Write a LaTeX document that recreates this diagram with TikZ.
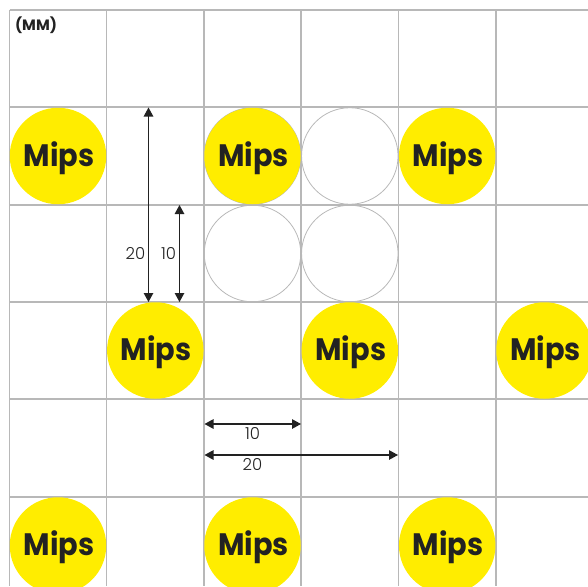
\documentclass[tikz,border=0pt]{standalone}
\usepackage{fontspec}
\setmainfont{Poppins}
\newfontfamily\mipsfont[FakeStretch=0.93]{Poppins Bold}
\newfontfamily\dimfont{Poppins Light}
\usetikzlibrary{arrows.meta}
\definecolor{mipsyellow}{HTML}{FFED00}
\definecolor{gridgray}{HTML}{B8B8B8}
\definecolor{ink}{HTML}{222222}
\tikzset{
  gridline/.style={draw=gridgray,line width=1.2pt},
  mipsdot/.style={circle,fill=mipsyellow,minimum size=96.5pt,inner sep=0pt,text=ink},
  mipsword/.style={inner sep=0pt,text=ink,font=\mipsfont\fontsize{31}{31}\selectfont},
  emptydot/.style={circle,draw=gridgray,line width=0.8pt,minimum size=96.5pt,inner sep=0pt},
  dimline/.style={draw=ink,line width=1.2pt,{Triangle[length=9pt,width=9.5pt]}-{Triangle[length=9pt,width=9.5pt]}},
  dimlabel/.style={text=ink,font=\dimfont\fontsize{16.5}{17}\selectfont,inner sep=0pt},
}
\newcommand{\mipsat}[2]{%
  \node[mipsdot] (#1) at #2 {};
  \node[mipsword,xshift=1pt,yshift=-2pt] (#1t) at (#1) {Mips};
}
\begin{document}
\begin{tikzpicture}[x=1pt,y=-1pt]
\useasboundingbox (0,0) rectangle (588,586);
\foreach \gx in {9.5,106.5,204,301,398.5,496}
  \draw[gridline] (\gx,10) -- (\gx,586);
\foreach \gy in {10,107,205,302,399,497}
  \draw[gridline] (9.5,\gy) -- (588,\gy);
\node[font=\bfseries\fontsize{15}{15}\selectfont,text=ink,inner sep=0pt] (unit) at (36,25) {(MM)};
\mipsat{a1}{(58,156)}
\node[circle,fill=gridgray,minimum size=97.4pt,inner sep=0pt] (a2ring) at (252.5,156) {};
\mipsat{a2}{(252.5,156)}
\node[emptydot] (e1) at (349.8,156) {};
\mipsat{a3}{(447.2,156)}
\node[emptydot] (e2) at (252.5,253.5) {};
\node[emptydot] (e3) at (349.8,253.5) {};
\mipsat{b1}{(155.3,350.5)}
\mipsat{b2}{(349.8,350.5)}
\mipsat{b3}{(544.5,350.5)}
\mipsat{c1}{(58,545.5)}
\mipsat{c2}{(252.5,545.5)}
\mipsat{c3}{(447.2,545.5)}
\coordinate (v20t) at (148.5,107.5);
\coordinate (v20b) at (148.5,302);
\coordinate (v10t) at (179.5,205);
\coordinate (v10b) at (179.5,302);
\coordinate (h10l) at (204.5,424);
\coordinate (h10r) at (301,424);
\coordinate (h20l) at (204.5,455);
\coordinate (h20r) at (398,455);
\draw[dimline] (v20t) -- (v20b);
\draw[dimline] (v10t) -- (v10b);
\draw[dimline] (h10l) -- (h10r);
\draw[dimline] (h20l) -- (h20r);
\node[dimlabel] (l20v) at (135.5,253.5) {20};
\node[dimlabel] (l10v) at (168.5,253.5) {10};
\node[dimlabel] (l10h) at (252.5,433.5) {10};
\node[dimlabel] (l20h) at (252.5,464.5) {20};
\end{tikzpicture}
\end{document}
